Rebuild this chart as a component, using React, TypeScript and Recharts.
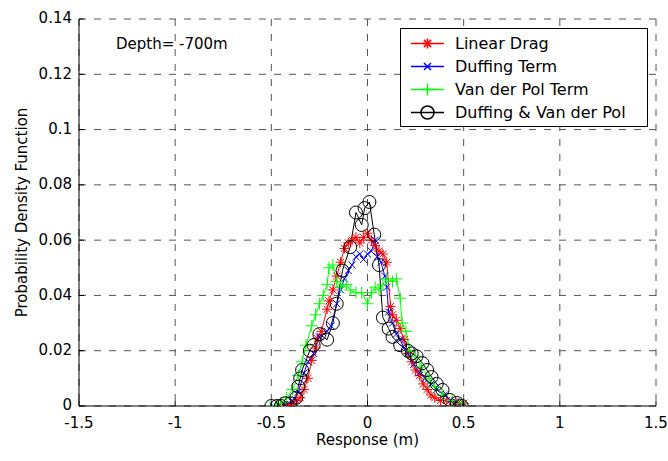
import React from 'react';
import { LineChart, Line, XAxis, YAxis, CartesianGrid, Legend } from 'recharts';

// ---- tick values ----
const xTicks = [-1.5, -1, -0.5, 0, 0.5, 1, 1.5];
const yTicks = [0, 0.02, 0.04, 0.06, 0.08, 0.1, 0.12, 0.14];
const yTickLabels = ['0', '0.02', '0.04', '0.06', '0.08', '0.1', '0.12', '0.14'];

// ---- series names ----
const seriesNames = ['Linear Drag', 'Duffing Term', 'Van der Pol Term', 'Duffing & Van der Pol'];
const seriesColors = ['#ff0000', '#0000ff', '#00ff00', '#000000'];
const depthText = 'Depth= -700m';

// ---- Linear Drag (red *) ----
const linearX = [-0.45, -0.42, -0.4, -0.37, -0.35, -0.33, -0.31, -0.29, -0.27, -0.26, -0.24, -0.21, -0.2, -0.18, -0.16, -0.14, -0.12, -0.1, -0.08, -0.06, -0.04, -0.02, 0.0, 0.02, 0.04, 0.06, 0.08, 0.1, 0.12, 0.13, 0.15, 0.17, 0.19, 0.21, 0.23, 0.25, 0.27, 0.29, 0.31, 0.33, 0.35, 0.38, 0.41, 0.44, 0.47, 0.5];
const linearY = [0.0, 0.0, 0.0005, 0.002, 0.003, 0.006, 0.01, 0.0165, 0.021, 0.0245, 0.027, 0.035, 0.038, 0.042, 0.047, 0.052, 0.057, 0.059, 0.06, 0.061, 0.059, 0.061, 0.0625, 0.06, 0.058, 0.056, 0.055, 0.052, 0.036, 0.033, 0.031, 0.028, 0.024, 0.019, 0.016, 0.013, 0.011, 0.008, 0.006, 0.004, 0.003, 0.002, 0.002, 0.0015, 0.001, 0.001];

// ---- Duffing Term (blue x) ----
const duffingX = [-0.49, -0.46, -0.43, -0.39, -0.36, -0.33, -0.31, -0.28, -0.25, -0.21, -0.19, -0.16, -0.14, -0.12, -0.1, -0.08, -0.06, -0.04, -0.02, 0.0, 0.02, 0.04, 0.05, 0.07, 0.09, 0.1, 0.11, 0.13, 0.15, 0.17, 0.19, 0.21, 0.24, 0.27, 0.3, 0.33, 0.36, 0.4, 0.43, 0.46, 0.5];
const duffingY = [0.0, 0.0, 0.0005, 0.002, 0.005, 0.012, 0.016, 0.019, 0.025, 0.027, 0.029, 0.037, 0.042, 0.046, 0.049, 0.051, 0.054, 0.055, 0.053, 0.055, 0.056, 0.06, 0.054, 0.052, 0.047, 0.043, 0.034, 0.03, 0.026, 0.024, 0.021, 0.019, 0.015, 0.012, 0.01, 0.008, 0.006, 0.004, 0.002, 0.0015, 0.0];

// ---- Van der Pol Term (green +) ----
const vdpX = [-0.5, -0.47, -0.45, -0.42, -0.39, -0.36, -0.34, -0.32, -0.29, -0.27, -0.25, -0.23, -0.21, -0.2, -0.18, -0.16, -0.14, -0.11, -0.09, -0.06, -0.03, 0.0, 0.02, 0.04, 0.06, 0.08, 0.1, 0.13, 0.15, 0.17, 0.18, 0.2, 0.22, 0.25, 0.28, 0.32, 0.35, 0.39, 0.44, 0.49];
const vdpY = [0.0, 0.0, 0.001, 0.003, 0.006, 0.011, 0.016, 0.022, 0.029, 0.033, 0.037, 0.04, 0.044, 0.05, 0.051, 0.045, 0.043, 0.044, 0.042, 0.041, 0.041, 0.037, 0.041, 0.043, 0.042, 0.044, 0.046, 0.045, 0.046, 0.039, 0.03, 0.027, 0.02, 0.018, 0.014, 0.01, 0.007, 0.004, 0.002, 0.001];

// ---- Duffing & Van der Pol (black o) ----
const bothX = [-0.5, -0.47, -0.45, -0.43, -0.4, -0.37, -0.36, -0.35, -0.34, -0.3, -0.28, -0.25, -0.21, -0.18, -0.16, -0.13, -0.09, -0.06, -0.03, -0.015, 0.01, 0.035, 0.06, 0.08, 0.11, 0.13, 0.17, 0.21, 0.23, 0.255, 0.286, 0.31, 0.333, 0.36, 0.39, 0.427, 0.464, 0.49];
const bothY = [0.0, 0.0, 0.0, 0.001, 0.001, 0.003, 0.007, 0.01, 0.013, 0.02, 0.022, 0.026, 0.024, 0.03, 0.037, 0.049, 0.0575, 0.07, 0.0655, 0.0716, 0.0738, 0.062, 0.051, 0.032, 0.028, 0.025, 0.022, 0.02, 0.019, 0.018, 0.0155, 0.013, 0.0105, 0.008, 0.0058, 0.0022, 0.0011, 0.0];

const toRows = (xs: number[], ys: number[]) => xs.map((x, i) => ({ x, y: ys[i] }));
const seriesData = [toRows(linearX, linearY), toRows(duffingX, duffingY), toRows(vdpX, vdpY), toRows(bothX, bothY)];

const FONT = '"DejaVu Sans", "Liberation Sans", Arial, sans-serif';

const Marker = ({ kind, cx, cy, color, w = 1 }: { kind: number; cx: number; cy: number; color: string; w?: number }) => {
  if (cx == null || cy == null || isNaN(cx) || isNaN(cy)) return null;
  if (kind === 0) {
    const s = 5;
    const d = 3.6;
    return (
      <g stroke={color} strokeWidth={w} fill="none">
        <line x1={cx - s} y1={cy} x2={cx + s} y2={cy} />
        <line x1={cx} y1={cy - s} x2={cx} y2={cy + s} />
        <line x1={cx - d} y1={cy - d} x2={cx + d} y2={cy + d} />
        <line x1={cx - d} y1={cy + d} x2={cx + d} y2={cy - d} />
      </g>
    );
  }
  if (kind === 1) {
    const d = 3.5;
    return (
      <g stroke={color} strokeWidth={w} fill="none">
        <line x1={cx - d} y1={cy - d} x2={cx + d} y2={cy + d} />
        <line x1={cx - d} y1={cy + d} x2={cx + d} y2={cy - d} />
      </g>
    );
  }
  if (kind === 2) {
    const s = 6;
    return (
      <g stroke={color} strokeWidth={w} fill="none">
        <line x1={cx - s} y1={cy} x2={cx + s} y2={cy} />
        <line x1={cx} y1={cy - s} x2={cx} y2={cy + s} />
      </g>
    );
  }
  return <circle cx={cx} cy={cy} r={6.5} stroke={color} strokeWidth={w} fill="none" />;
};

const makeDot = (kind: number) => (props: any) => (
  <Marker key={`m-${kind}-${props.index}`} kind={kind} cx={props.cx} cy={props.cy} color={seriesColors[kind]} />
);

const XTick = (props: any) => {
  const { x, y, payload } = props;
  return (
    <g>
      <line x1={x} y1={y - 7} x2={x} y2={y - 12} stroke="#000" strokeWidth={1} />
      <text x={x} y={y + 2} dy="0.85em" textAnchor="middle" fontSize={15} fontFamily={FONT} fill="#000">
        {String(payload.value)}
      </text>
    </g>
  );
};

const YTick = (props: any) => {
  const { x, y, payload } = props;
  const idx = yTicks.indexOf(payload.value);
  return (
    <g>
      <line x1={x + 7} y1={y} x2={x + 12} y2={y} stroke="#000" strokeWidth={1} />
      <text x={x} y={y - 1} dy="0.36em" textAnchor="end" fontSize={15} fontFamily={FONT} fill="#000">
        {idx >= 0 ? yTickLabels[idx] : String(payload.value)}
      </text>
    </g>
  );
};

const YLabel = (props: any) => {
  const vb = props.viewBox || { y: 19, height: 387 };
  const cx = 22;
  const cy = vb.y + vb.height / 2;
  return (
    <text x={cx} y={cy} transform={`rotate(-90 ${cx} ${cy})`} textAnchor="middle" dominantBaseline="central" fontSize={15} fontFamily={FONT} fill="#000">
      Probability Density Function
    </text>
  );
};

const XLabel = (props: any) => {
  const vb = props.viewBox || { x: 79, width: 577 };
  const cx = vb.x + vb.width / 2;
  return (
    <text x={cx} y={440} textAnchor="middle" dominantBaseline="central" fontSize={15} fontFamily={FONT} fill="#000">
      Response (m)
    </text>
  );
};

const LegendBox = () => (
  <div style={{ width: 246, height: 97, border: '1px solid #000', background: '#fff', boxSizing: 'content-box', fontFamily: FONT, fontSize: 16, color: '#000' }}>
    {seriesNames.map((name, i) => (
      <div key={name} style={{ position: 'relative', height: 23, marginTop: i === 0 ? 3 : 0, display: 'flex', alignItems: 'center' }}>
        <svg width={54} height={23} style={{ display: 'block', flex: 'none' }}>
          <line x1={10} y1={11.5} x2={43} y2={11.5} stroke={seriesColors[i]} strokeWidth={1.5} />
          <Marker kind={i} cx={26.5} cy={11.5} color={seriesColors[i]} w={1.5} />
        </svg>
        <span style={{ whiteSpace: 'nowrap', lineHeight: '23px' }}>{name}</span>
      </div>
    ))}
  </div>
);

export default function App() {
  return (
    <div style={{ position: 'absolute', left: 0, top: 0, width: 668, height: 461, background: '#fff' }}>
      <LineChart width={668} height={461} margin={{ top: 19, right: 12, bottom: 0, left: 0 }}>
        <CartesianGrid xAxisId="b" yAxisId="l" stroke="#555" strokeDasharray="7 8" strokeWidth={1} horizontalValues={yTicks} verticalValues={xTicks} />
        <XAxis xAxisId="b" dataKey="x" type="number" domain={[-1.5, 1.5]} ticks={xTicks} height={55} tickSize={0} tickMargin={7} tickLine={false} tick={<XTick />} axisLine={{ stroke: '#000', strokeWidth: 1 }} allowDataOverflow interval={0} label={<XLabel />} />
        <XAxis xAxisId="t" orientation="top" type="number" domain={[-1.5, 1.5]} ticks={xTicks} height={0} tickSize={-5} tick={false} tickLine={{ stroke: '#000' }} axisLine={{ stroke: '#000', strokeWidth: 1 }} allowDataOverflow interval={0} />
        <YAxis yAxisId="l" type="number" domain={[0, 0.14]} ticks={yTicks} width={79} tickSize={0} tickMargin={7} tickLine={false} tick={<YTick />} axisLine={{ stroke: '#000', strokeWidth: 1 }} allowDataOverflow interval={0} label={<YLabel />} />
        <YAxis yAxisId="r" orientation="right" type="number" domain={[0, 0.14]} ticks={yTicks} width={0} tickSize={-5} tick={false} tickLine={{ stroke: '#000' }} axisLine={{ stroke: '#000', strokeWidth: 1 }} allowDataOverflow interval={0} />
        {seriesData.map((rows, i) => (
          <Line
            key={seriesNames[i]}
            xAxisId="b"
            yAxisId="l"
            data={rows}
            dataKey="y"
            name={seriesNames[i]}
            type="linear"
            stroke={seriesColors[i]}
            strokeWidth={1}
            dot={makeDot(i)}
            activeDot={false}
            isAnimationActive={false}
          />
        ))}
        <Legend layout="vertical" align="center" verticalAlign="middle" content={<LegendBox />} wrapperStyle={{ left: 400, top: 28, width: 248, height: 99 }} />
      </LineChart>
      <div style={{ position: 'absolute', left: 116, top: 35, fontFamily: FONT, fontSize: 15, lineHeight: '18px', color: '#000', whiteSpace: 'nowrap' }}>
        {depthText}
      </div>
    </div>
  );
}
